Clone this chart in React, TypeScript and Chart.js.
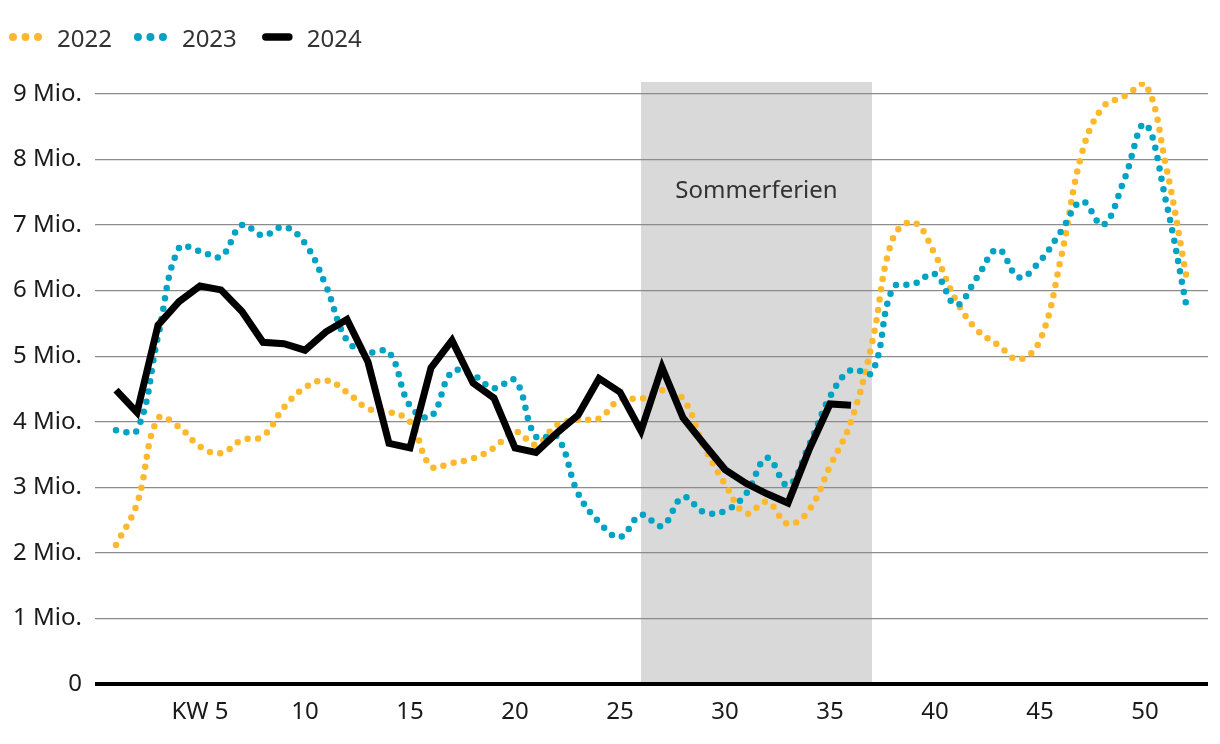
import { useEffect, useRef } from "react";
import { Chart, registerables } from "chart.js";

Chart.register(...registerables);

const weeks = [
  1, 2, 3, 4, 5, 6, 7, 8, 9, 10, 11, 12, 13, 14, 15, 16, 17, 18, 19, 20, 21, 22, 23, 24, 25, 26,
  27, 28, 29, 30, 31, 32, 33, 34, 35, 36, 37, 38, 39, 40, 41, 42, 43, 44, 45, 46, 47, 48, 49, 50, 51, 52,
];

const values2022 = [
  2.12, 2.75, 4.05, 3.92, 3.62, 3.52, 3.72, 3.78, 4.22, 4.52, 4.63, 4.45, 4.2, 4.15, 4.0, 3.32, 3.37,
  3.44, 3.6, 3.85, 3.65, 3.95, 4.03, 4.05, 4.34, 4.35, 4.48, 4.35, 3.62, 3.05, 2.6, 2.78, 2.44, 2.65,
  3.32, 4.0, 5.2, 6.8, 7.04, 6.55, 5.85, 5.4, 5.17, 4.95, 5.24, 6.5, 8.1, 8.8, 8.96, 9.16, 7.9, 6.16,
];

const values2023 = [
  3.87, 3.87, 5.3, 6.65, 6.6, 6.52, 7.0, 6.84, 6.97, 6.72, 6.07, 5.24, 5.06, 5.06, 4.24, 4.08, 4.76,
  4.71, 4.51, 4.63, 3.77, 3.77, 2.91, 2.47, 2.24, 2.58, 2.41, 2.85, 2.62, 2.64, 2.9, 3.45, 3.03, 3.64,
  4.38, 4.79, 4.75, 6.04, 6.1, 6.25, 5.78, 6.2, 6.63, 6.2, 6.45, 6.9, 7.36, 7.0, 7.68, 8.54, 7.36, 5.72,
];

const values2024 = [
  4.48, 4.14, 5.47, 5.83, 6.07, 6.01, 5.68, 5.21, 5.19, 5.09, 5.37, 5.56, 4.91, 3.67, 3.6, 4.82, 5.24,
  4.59, 4.36, 3.6, 3.53, 3.83, 4.1, 4.66, 4.45, 3.86, 4.83, 4.06, 3.66, 3.27, 3.06, 2.9, 2.76, 3.57,
  4.27, 4.25,
];

const seriesNames = ["2022", "2023", "2024"];
const yTickValues = [0, 1, 2, 3, 4, 5, 6, 7, 8, 9];
const xTickValues = [5, 10, 15, 20, 25, 30, 35, 40, 45, 50];
const holidayLabel = "Sommerferien";
const holidayStartWeek = 26;
const holidayEndWeek = 37;

const FONT = '"Noto Sans", sans-serif';
const ORANGE = "#FDB92E";
const TEAL = "#00A3C4";
const BLACK = "#000000";

const overlayPlugin = {
  id: "overlay",
  beforeDraw(chart: any) {
    const { ctx, chartArea, scales } = chart;
    const x = scales.x;
    const y = scales.y;
    const x0 = x.getPixelForValue(holidayStartWeek);
    const x1 = x.getPixelForValue(holidayEndWeek);
    const yBottom = y.getPixelForValue(0);
    ctx.save();
    ctx.fillStyle = "#d9d9d9";
    ctx.fillRect(x0, chartArea.top, x1 - x0, yBottom - chartArea.top);
    ctx.font = `24px ${FONT}`;
    ctx.fillStyle = "#333333";
    ctx.textAlign = "center";
    ctx.textBaseline = "alphabetic";
    ctx.fillText(holidayLabel, (x0 + x1) / 2, chartArea.top + 116);
    ctx.restore();
  },
  afterDraw(chart: any) {
    const { ctx } = chart;
    ctx.save();
    ctx.font = `24px ${FONT}`;
    ctx.textBaseline = "alphabetic";
    ctx.textAlign = "left";
    let x = 9;
    const cy = 37;
    chart.data.datasets
      .slice()
      .sort((a: any, b: any) => seriesNames.indexOf(a.label) - seriesNames.indexOf(b.label))
      .forEach((ds: any) => {
        const color = ds.borderColor;
        if (ds.borderDash && ds.borderDash.length) {
          ctx.fillStyle = color;
          [4, 16.5, 29].forEach((dx) => {
            ctx.beginPath();
            ctx.arc(x + dx, cy, 4, 0, Math.PI * 2);
            ctx.fill();
          });
        } else {
          ctx.strokeStyle = color;
          ctx.lineWidth = 7.5;
          ctx.lineCap = "round";
          ctx.beginPath();
          ctx.moveTo(x + 7, cy);
          ctx.lineTo(x + 30, cy);
          ctx.stroke();
        }
        ctx.fillStyle = "#333333";
        const tx = x + 48;
        ctx.fillText(ds.label, tx, 47);
        x = tx + ctx.measureText(ds.label).width + 22;
      });
    ctx.restore();
  },
};

export default function App() {
  const canvasRef = useRef<HTMLCanvasElement | null>(null);

  useEffect(() => {
    if (!canvasRef.current) return;
    const chart = new Chart(canvasRef.current, {
      type: "line",
      data: {
        labels: weeks,
        datasets: [
          {
            label: "2024",
            data: values2024,
            borderColor: BLACK,
            borderWidth: 7,
            borderJoinStyle: "miter",
            borderCapStyle: "butt",
            pointRadius: 0,
            tension: 0,
            fill: false,
            order: 0,
          },
          {
            label: "2023",
            data: values2023,
            borderColor: TEAL,
            borderWidth: 6.5,
            borderDash: [0, 10.5],
            borderCapStyle: "round",
            pointRadius: 0,
            tension: 0.4,
            fill: false,
            order: 1,
          },
          {
            label: "2022",
            data: values2022,
            borderColor: ORANGE,
            borderWidth: 6.5,
            borderDash: [0, 10.5],
            borderCapStyle: "round",
            pointRadius: 0,
            tension: 0.4,
            fill: false,
            order: 2,
          },
        ],
      },
      options: {
        animation: false,
        responsive: true,
        maintainAspectRatio: false,
        layout: { padding: { top: 82, right: 12, left: 0, bottom: 0 } },
        plugins: { legend: { display: false }, tooltip: { enabled: false } },
        scales: {
          x: {
            type: "linear",
            min: 0,
            max: 53,
            afterBuildTicks: (s: any) => {
              s.ticks = xTickValues.map((v) => ({ value: v }));
            },
            afterFit: (s: any) => {
              s.height = 60;
            },
            grid: { display: false, drawTicks: false },
            border: { display: false },
            ticks: {
              autoSkip: false,
              maxRotation: 0,
              padding: 14,
              color: "#1a1a1a",
              font: { family: FONT, size: 24 },
              callback: (v: any) => (v === 5 ? "KW 5" : String(v)),
            },
          },
          y: {
            min: 0,
            max: 9.18,
            afterBuildTicks: (s: any) => {
              s.ticks = yTickValues.map((v) => ({ value: v }));
            },
            afterFit: (s: any) => {
              s.width = 95;
            },
            grid: {
              drawTicks: false,
              color: (c: any) => (c.tick && c.tick.value === 0 ? "#000000" : "#8c8c8c"),
              lineWidth: (c: any) => (c.tick && c.tick.value === 0 ? 4 : 1.2),
            },
            border: { display: false },
            ticks: {
              padding: 13,
              color: "#1a1a1a",
              font: { family: FONT, size: 24 },
              callback: (v: any) => (v === 0 ? "0" : `${v} Mio.`),
            },
          },
        },
      },
      plugins: [overlayPlugin],
    });
    return () => chart.destroy();
  }, []);

  return (
    <div style={{ position: "absolute", left: 0, top: 0, width: 1220, height: 744, background: "#fff" }}>
      <canvas ref={canvasRef} />
    </div>
  );
}
